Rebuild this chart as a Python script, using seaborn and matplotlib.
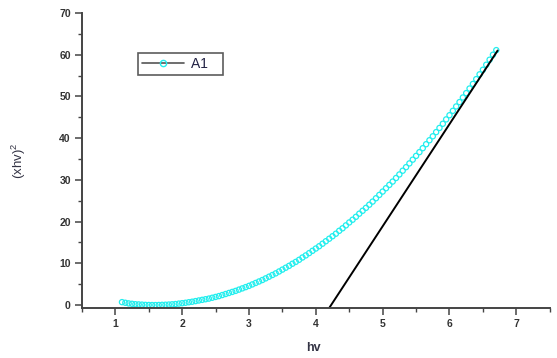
import numpy as np
import pandas as pd
import matplotlib
matplotlib.use("Agg")
import matplotlib.pyplot as plt
from matplotlib.lines import Line2D
from matplotlib.ticker import MultipleLocator
import seaborn as sns

# photon energy (eV) and (alpha h nu)^2
hv = np.round(np.arange(1.10, 6.701, 0.05), 2)
ahv2 = [0.7, 0.55, 0.4, 0.3, 0.2, 0.15, 0.1, 0.05, 0.02, 0.0,
        0.0, 0.02, 0.05, 0.08, 0.12, 0.18, 0.25, 0.35, 0.45, 0.55,
        0.68, 0.8, 0.95, 1.1, 1.25, 1.4, 1.55, 1.75, 1.95, 2.15,
        2.4, 2.65, 2.9, 3.15, 3.4, 3.7, 4.0, 4.3, 4.6, 4.95,
        5.3, 5.65, 6.0, 6.4, 6.8, 7.2, 7.6, 8.05, 8.5, 8.95,
        9.4, 9.9, 10.35, 10.85, 11.4, 11.9, 12.45, 13.0, 13.55, 14.1,
        14.7, 15.3, 15.9, 16.5, 17.1, 17.8, 18.4, 19.1, 19.8, 20.45,
        21.15, 21.9, 22.6, 23.3, 24.05, 24.8, 25.6, 26.4, 27.2, 28.0,
        28.8, 29.6, 30.45, 31.3, 32.2, 33.05, 33.95, 34.85, 35.75, 36.65,
        37.6, 38.55, 39.5, 40.45, 41.45, 42.45, 43.45, 44.5, 45.5, 46.55,
        47.6, 48.65, 49.75, 50.8, 51.9, 53.0, 54.15, 55.3, 56.4, 57.6,
        58.8, 60.0, 61.1]

# Tauc extrapolation line
fit_hv = [4.20, 6.72]
fit_y = [-0.7, 61.0]

legend_label = "A1"
x_label = "hv"
y_label = "(xhv)$^2$"

sns.set_theme(style="white")
plt.rcParams['font.family'] = ['Liberation Sans', 'DejaVu Sans']
plt.rcParams['mathtext.fontset'] = 'custom'
plt.rcParams['mathtext.rm'] = 'Liberation Sans'

fig = plt.figure(figsize=(5.57, 3.58), dpi=100)
ax = fig.add_axes([0.147, 0.1397, 0.840, 0.824])

df = pd.DataFrame({"hv": hv[:len(ahv2)], "y": ahv2})
cyan = "#22EEEE"
sns.scatterplot(data=df, x="hv", y="y", ax=ax, marker="o", s=14,
                facecolor="none", edgecolor=cyan, linewidth=0.9, legend=False)
sns.lineplot(x=fit_hv, y=fit_y, ax=ax, color="black", linewidth=1.4, legend=False)

ax.set_xlim(0.5, 7.5)
ax.set_ylim(-0.7, 70)
ax.xaxis.set_major_locator(MultipleLocator(1))
ax.xaxis.set_minor_locator(MultipleLocator(0.5))
ax.yaxis.set_major_locator(MultipleLocator(10))
ax.yaxis.set_minor_locator(MultipleLocator(5))
ax.set_xticks([1, 2, 3, 4, 5, 6, 7])

for s in ["top", "right"]:
    ax.spines[s].set_visible(False)
for s in ["left", "bottom"]:
    ax.spines[s].set_color("#444444")
    ax.spines[s].set_linewidth(1.4)

ax.tick_params(axis="both", which="major", direction="out", length=5, width=1.1,
               color="#444444", labelsize=7.5, pad=3, bottom=True, left=True)
ax.tick_params(axis="both", which="minor", direction="out", length=3, width=1.0,
               color="#444444", bottom=True, left=True)
for lab in ax.get_xticklabels() + ax.get_yticklabels():
    lab.set_fontweight("bold")
    lab.set_color("#333333")

ax.set_xlabel(x_label, fontsize=9, fontweight="bold", color="#333344")
ax.xaxis.set_label_coords(0.495, -0.115)
ax.set_ylabel(y_label, fontsize=9.5, color="#333344")
ax.yaxis.set_label_coords(-0.115, 0.5)

handle = Line2D([0], [0], color="#555555", linewidth=1.2, marker="o",
                markersize=4.5, markerfacecolor="none", markeredgecolor=cyan,
                markeredgewidth=1.0)
leg = ax.legend([handle], [legend_label + "   "], loc="upper left",
                bbox_to_anchor=(0.12, 0.865), frameon=True, fancybox=False,
                fontsize=10, handlelength=3.0, borderpad=0.3, handletextpad=0.5,
                borderaxespad=0)
leg.get_frame().set_edgecolor("#333333")
leg.get_frame().set_linewidth(1.2)
for t in leg.get_texts():
    t.set_color("#222244")

fig.savefig("out.png", dpi=100)
